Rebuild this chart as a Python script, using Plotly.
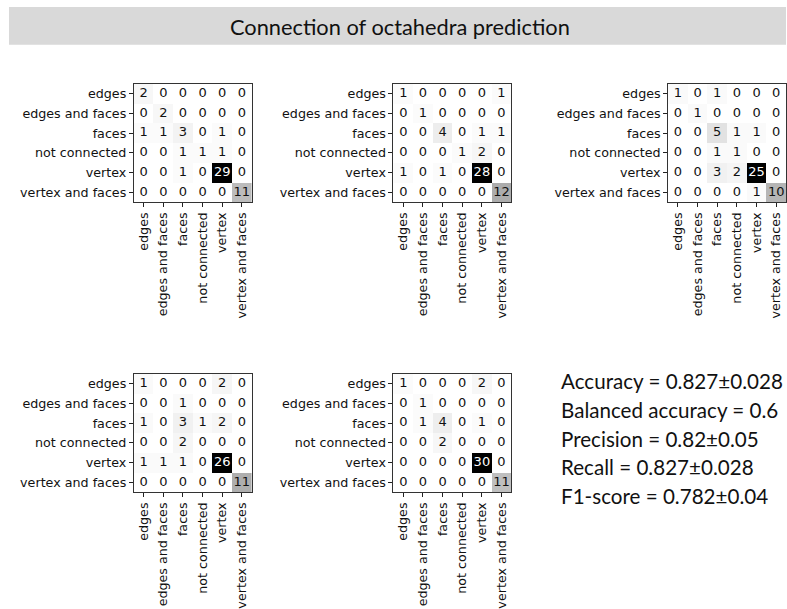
import plotly.graph_objects as go

# Class labels shared by every confusion matrix
labels = ["edges", "edges and faces", "faces", "not connected", "vertex", "vertex and faces"]

# Confusion matrices (rows = true class, columns = predicted class), one per fold
cm_fold1 = [[2, 0, 0, 0, 0, 0],
            [0, 2, 0, 0, 0, 0],
            [1, 1, 3, 0, 1, 0],
            [0, 0, 1, 1, 1, 0],
            [0, 0, 1, 0, 29, 0],
            [0, 0, 0, 0, 0, 11]]
cm_fold2 = [[1, 0, 0, 0, 0, 1],
            [0, 1, 0, 0, 0, 0],
            [0, 0, 4, 0, 1, 1],
            [0, 0, 0, 1, 2, 0],
            [1, 0, 1, 0, 28, 0],
            [0, 0, 0, 0, 0, 12]]
cm_fold3 = [[1, 0, 1, 0, 0, 0],
            [0, 1, 0, 0, 0, 0],
            [0, 0, 5, 1, 1, 0],
            [0, 0, 1, 1, 0, 0],
            [0, 0, 3, 2, 25, 0],
            [0, 0, 0, 0, 1, 10]]
cm_fold4 = [[1, 0, 0, 0, 2, 0],
            [0, 0, 1, 0, 0, 0],
            [1, 0, 3, 1, 2, 0],
            [0, 0, 2, 0, 0, 0],
            [1, 1, 1, 0, 26, 0],
            [0, 0, 0, 0, 0, 11]]
cm_fold5 = [[1, 0, 0, 0, 2, 0],
            [0, 1, 0, 0, 0, 0],
            [0, 1, 4, 0, 1, 0],
            [0, 0, 2, 0, 0, 0],
            [0, 0, 0, 0, 30, 0],
            [0, 0, 0, 0, 0, 11]]

# Summary scores
metrics = [
    "Accuracy = 0.827±0.028",
    "Balanced accuracy = 0.6",
    "Precision = 0.82±0.05",
    "Recall = 0.827±0.028",
    "F1-score = 0.782±0.04",
]

title_text = "Connection of octahedra prediction"

W, H = 787, 609

# matplotlib "Greys" colormap
greys = [[0.0, "#ffffff"], [0.125, "#f0f0f0"], [0.25, "#d9d9d9"], [0.375, "#bdbdbd"],
         [0.5, "#969696"], [0.625, "#737373"], [0.75, "#525252"], [0.875, "#252525"],
         [1.0, "#000000"]]

# pixel boxes (left, top, right, bottom) of each matrix panel
panels = [
    (cm_fold1, (134, 84, 252, 203)),
    (cm_fold2, (394, 84, 512, 203)),
    (cm_fold3, (669, 84, 787, 203)),
    (cm_fold4, (134, 375, 252, 494)),
    (cm_fold5, (394, 375, 512, 494)),
]

fig = go.Figure()
tick_font = dict(family="DejaVu Sans", size=12.7, color="#111111")
n = len(labels)
idx = list(range(n))

for k, (cm, (l, t, r, b)) in enumerate(panels, start=1):
    xa = "x" if k == 1 else f"x{k}"
    ya = "y" if k == 1 else f"y{k}"
    vmax = max(max(row) for row in cm)
    vmin = min(min(row) for row in cm)
    fig.add_trace(go.Heatmap(
        z=cm, x=idx, y=idx, colorscale=greys, zmin=vmin, zmax=vmax,
        showscale=False, xaxis=xa, yaxis=ya, hoverinfo="skip", xgap=0, ygap=0,
    ))
    tx, ty, tt, tc = [], [], [], []
    thresh = (vmax + vmin) / 2
    for i in range(n):
        for j in range(n):
            tx.append(j)
            ty.append(i)
            tt.append(str(cm[i][j]))
            tc.append("#ffffff" if cm[i][j] > thresh else "#111111")
    fig.add_trace(go.Scatter(
        x=tx, y=ty, text=tt, mode="text", xaxis=xa, yaxis=ya,
        textfont=dict(family="DejaVu Sans", size=13, color=tc),
        textposition="middle center", hoverinfo="skip", showlegend=False,
    ))
    axis_common = dict(
        tickmode="array", tickvals=idx, ticktext=labels, tickfont=tick_font,
        ticks="outside", ticklen=4, tickwidth=1, tickcolor="#222222",
        showline=True, linecolor="#333333", linewidth=1, mirror=True,
        showgrid=False, zeroline=False, fixedrange=True,
    )
    fig.update_layout(**{
        ("xaxis" if k == 1 else f"xaxis{k}"): dict(
            axis_common, domain=[l / W, r / W], range=[-0.5, n - 0.5],
            anchor=ya, tickangle=-90),
        ("yaxis" if k == 1 else f"yaxis{k}"): dict(
            axis_common, domain=[1 - b / H, 1 - t / H], range=[n - 0.5, -0.5],
            anchor=xa),
    })

# title band
fig.add_shape(type="rect", xref="paper", yref="paper",
              x0=9 / W, x1=1.0, y0=1 - 45 / H, y1=1 - 7 / H,
              fillcolor="#d9d9d9", line=dict(width=0), layer="below")
fig.add_annotation(text=title_text, xref="paper", yref="paper",
                   x=401 / W, y=1 - 27 / H, xanchor="center", yanchor="middle",
                   showarrow=False, font=dict(family="Lato", size=21.8, color="#111111"))

# summary score lines
line_y = [382, 411, 440, 469, 498]
for txt, yy in zip(metrics, line_y):
    fig.add_annotation(text=txt, xref="paper", yref="paper",
                       x=560 / W, y=1 - yy / H, xanchor="left", yanchor="middle",
                       showarrow=False, font=dict(family="Lato", size=20.6, color="#111111"))

fig.update_layout(
    width=W, height=H, margin=dict(l=0, r=0, t=0, b=0),
    paper_bgcolor="white", plot_bgcolor="white", showlegend=False,
)

fig.write_html("out.html")
